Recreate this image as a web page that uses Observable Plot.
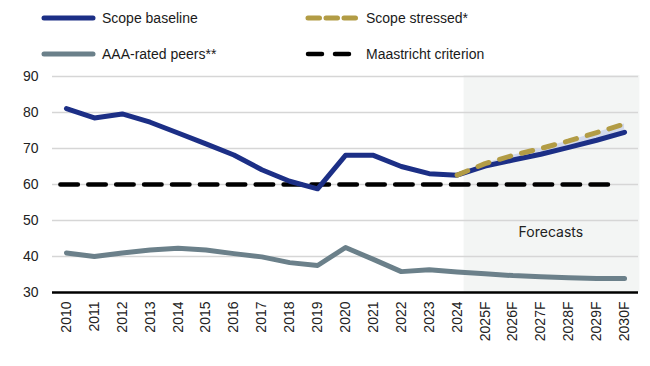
<!DOCTYPE html>
<html><head><meta charset="utf-8">
<script src="https://cdn.jsdelivr.net/npm/d3@7"></script>
<script src="https://cdn.jsdelivr.net/npm/@observablehq/plot@0.6"></script>
<style>
body{margin:0;background:#fff;font-family:"Liberation Sans",Arial,sans-serif;}
#legend{position:relative;height:66px;width:650px;font-size:14px;color:#1a1a1a}
.item{position:absolute;display:flex;align-items:center;height:20px;}
.item svg{display:block}
#chart svg{display:block}
</style></head><body>
<div id="legend"></div>
<div id="chart"></div>
<script>
const years = ["2010","2011","2012","2013","2014","2015","2016","2017","2018","2019","2020","2021","2022","2023","2024","2025F","2026F","2027F","2028F","2029F","2030F"];
const baseline = [81.1,78.5,79.6,77.3,74.3,71.3,68.2,64.1,60.9,58.8,68.1,68.1,65.0,63.0,62.6,65.1,66.8,68.4,70.3,72.3,74.5];
const stressedYears = ["2024","2025F","2026F","2027F","2028F","2029F","2030F"];
const stressed = [62.6,65.8,68.1,70.0,72.1,74.4,76.8];
const peers = [41.0,40.0,41.0,41.8,42.3,41.8,40.8,39.9,38.3,37.5,42.5,39.2,35.8,36.3,35.7,35.2,34.7,34.4,34.1,33.9,33.9];
const maastricht = 60;
const yTicks = [30,40,50,60,70,80,90];
const forecastLabel = "Forecasts";
const forecastFrom = "2024";

const series = [
  {name:"Scope baseline", color:"#1c2f86", dash:null, width:5},
  {name:"Scope stressed*", color:"#b29c45", dash:"11.5,6.5", width:5},
  {name:"AAA-rated peers**", color:"#6b808a", dash:null, width:5},
  {name:"Maastricht criterion", color:"#000000", dash:"14,13", width:4.5}
];

// legend
const leg = document.getElementById("legend");
const pos = [[41,8],[305,8],[41,44],[305,44]];
series.forEach((s,i)=>{
  const d = document.createElement("div");
  d.className="item";
  d.style.left = pos[i][0]+"px"; d.style.top = pos[i][1]+"px";
  const w = i%2===0 ? 55 : 54;
  d.innerHTML = `<svg width="${w}" height="10"><line x1="3" x2="${w-3}" y1="5" y2="5" stroke="${s.color}" stroke-width="${s.width}" stroke-linecap="round" ${s.dash?`stroke-dasharray="${s.dash}"`:""}/></svg><span style="margin-left:${i%2===0?6:7}px">${s.name}</span>`;
  leg.appendChild(d);
});

const idx = y => years.indexOf(y);
const baseData = years.map((y,i)=>({x:i, v:baseline[i]}));
const peerData = years.map((y,i)=>({x:i, v:peers[i]}));
const stressData = stressedYears.map((y,i)=>({x:idx(y), v:stressed[i], b:baseline[idx(y)]}));

const chart = Plot.plot({
  width:650, height:300,
  marginLeft:52, marginRight:12, marginTop:10, marginBottom:74,
  style:{fontFamily:"'Liberation Sans', Arial, sans-serif", fontSize:"14px", color:"#222", background:"transparent"},
  x:{type:"linear", domain:[-0.5, years.length-0.5], label:null},
  y:{domain:[30,90], label:null},
  marks:[
    Plot.rect([forecastFrom], {x1: d=>idx(d)+0.25, x2: ()=>years.length-0.45, y1: ()=>30, y2: ()=>90.3, fill:"#f3f5f4"}),
    Plot.ruleY(yTicks.slice(1), {stroke:"#d6d6d6", strokeWidth:1.5}),
    Plot.ruleY([yTicks[0]], {stroke:"#000", strokeWidth:2.5}),
    Plot.ruleY([maastricht], {x1:()=>-0.2, x2:()=>years.length-1.3, stroke:"#000", strokeWidth:4.5, strokeDasharray:"17.5,10.4", strokeLinecap:"round"}),
    Plot.areaY(stressData, {x:"x", y1:"b", y2:"v", fill:"#d2d9ec"}),
    Plot.line(peerData, {x:"x", y:"v", stroke:"#6b808a", strokeWidth:5, strokeLinecap:"round", strokeLinejoin:"round"}),
    Plot.line(baseData, {x:"x", y:"v", stroke:"#1c2f86", strokeWidth:5, strokeLinecap:"round", strokeLinejoin:"round"}),
    Plot.line(stressData, {x:"x", y:"v", stroke:"#b29c45", strokeWidth:5, strokeDasharray:"11.5,11.2", strokeLinecap:"round", strokeLinejoin:"round"}),
    Plot.text([forecastLabel], {x:()=>17.36, y:()=>46.6, text:d=>d, fill:"#222", fontSize:14, fontFamily:"Inter"}),
    Plot.axisY(yTicks, {tickSize:0, tickPadding:14, fontSize:14, label:null}),
    Plot.axisX(d3.range(years.length), {tickFormat:i=>years[i], tickRotate:-90, tickSize:0, tickPadding:9, fontSize:14, label:null})
  ]
});
document.getElementById("chart").appendChild(chart);
</script>
</body></html>
